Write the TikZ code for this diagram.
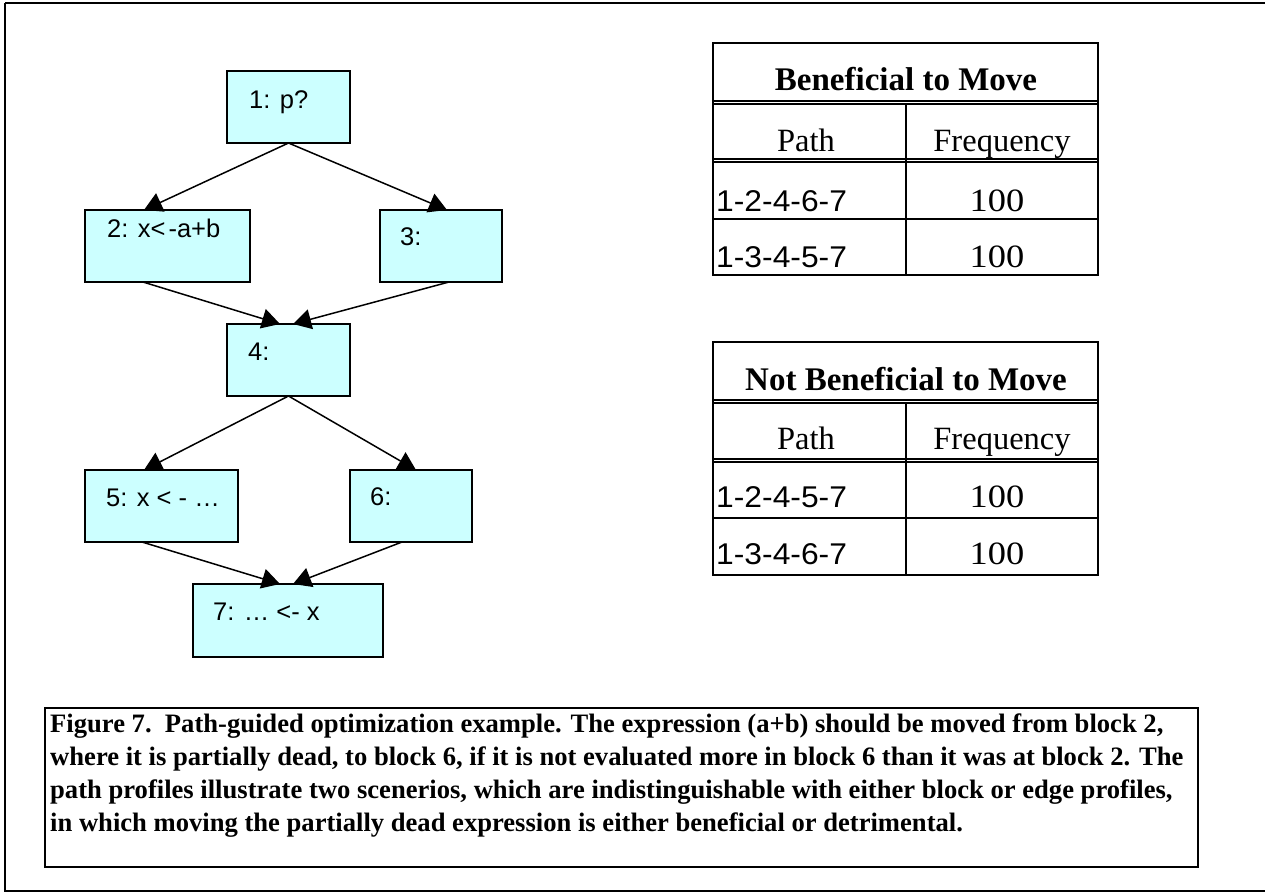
\documentclass[tikz,border=0pt]{standalone}
\usepackage{fontspec}
\setmainfont{Liberation Serif}
\newfontfamily\arial{Liberation Sans}
\usetikzlibrary{arrows.meta}
\definecolor{blockfill}{HTML}{CCFFFF}
\newcommand{\widen}[2]{\scalebox{#1}[1]{#2}}
\tikzset{
  block/.style={draw=black, line width=1.8pt, fill=blockfill, outer sep=0pt, inner sep=0pt, anchor=north west},
  blocktext/.style={anchor=base west, inner sep=0pt, font=\arial\fontsize{25.5}{30}\selectfont},
  flow/.style={line width=1.5pt, -{Triangle[length=18pt,width=20pt]}},
  rule/.style={line width=1.6pt},
  thinrule/.style={line width=1.2pt},
  titletext/.style={anchor=base, inner sep=0pt, font=\bfseries\fontsize{33}{38}\selectfont},
  headtext/.style={anchor=base, inner sep=0pt, font=\fontsize{32.5}{38}\selectfont},
  pathtext/.style={anchor=base west, inner sep=0pt, font=\arial\fontsize{30}{34}\selectfont},
  numtext/.style={anchor=base, inner sep=0pt, font=\fontsize{32.5}{38}\selectfont},
  captext/.style={anchor=base west, inner sep=0pt, font=\bfseries\fontsize{26.6}{33}\selectfont}
}
\begin{document}
\begin{tikzpicture}[x=1pt, y=-1pt]
\useasboundingbox (0,0) rectangle (1265,892);
% outer frame
\draw[line width=2pt] (5,3) -- (1270,3) (5,3) -- (5,891) -- (1270,891);

% control-flow blocks
\node[block, minimum width=123pt, minimum height=72pt] (b1) at (227,71) {};
\node[block, minimum width=165pt, minimum height=72pt] (b2) at (85,210) {};
\node[block, minimum width=122pt, minimum height=72pt] (b3) at (380,210) {};
\node[block, minimum width=123pt, minimum height=72pt] (b4) at (227,324) {};
\node[block, minimum width=153pt, minimum height=72pt] (b5) at (85,470) {};
\node[block, minimum width=122pt, minimum height=72pt] (b6) at (350,470) {};
\node[block, minimum width=190pt, minimum height=73pt] (b7) at (193,584) {};

\node[blocktext] (t1) at ([shift={(22,37)}]b1.north west) {1: p?};
\node[blocktext] (t2) at ([shift={(22,27)}]b2.north west) {2: x<\kern3pt-a+b};
\node[blocktext] (t3) at ([shift={(20,35)}]b3.north west) {3:};
\node[blocktext] (t4) at ([shift={(21,36)}]b4.north west) {4:};
\node[blocktext] (t5) at ([shift={(21,36)}]b5.north west) {5: x < - …};
\node[blocktext] (t6) at ([shift={(20,35)}]b6.north west) {6:};
\node[blocktext] (t7) at ([shift={(20,36)}]b7.north west) {7: … <- x};

% edges
\draw[flow] (b1.south) -- ([xshift=59pt]b2.north west);
\draw[flow] (b1.south) -- ([xshift=67pt]b3.north west);
\draw[flow] ([xshift=58pt]b2.south west) -- ([xshift=53pt]b4.north west);
\draw[flow] ([xshift=69pt]b3.south west) -- ([xshift=66pt]b4.north west);
\draw[flow] (b4.south) -- ([xshift=59pt]b5.north west);
\draw[flow] (b4.south) -- ([xshift=66pt]b6.north west);
\draw[flow] ([xshift=57pt]b5.south west) -- ([xshift=87pt]b7.north west);
\draw[flow] ([xshift=52pt]b6.south west) -- ([xshift=100pt]b7.north west);

% table: beneficial to move
\draw[rule] (713,43) rectangle (1098,275);
\draw[thinrule] (713,101) -- (1098,101) (713,104) -- (1098,104);
\draw[thinrule] (713,159) -- (1098,159) (713,162) -- (1098,162);
\draw[rule] (713,219) -- (1098,219);
\draw[rule] (906,104) -- (906,275);
\node[titletext] (bt) at (906,90) {Beneficial to Move};
\node[headtext] (bp) at (806,151) {Path};
\node[headtext] (bf) at (1002,151) {Frequency};
\node[pathtext] (br1) at (716,211) {\widen{1.06}{1-2-4-6-7}};
\node[numtext] (bn1) at (997,211) {\widen{1.12}{100}};
\node[pathtext] (br2) at (716,267) {\widen{1.06}{1-3-4-5-7}};
\node[numtext] (bn2) at (997,267) {\widen{1.12}{100}};

% table: not beneficial to move
\draw[rule] (713,342) rectangle (1098,575);
\draw[thinrule] (713,400) -- (1098,400) (713,403) -- (1098,403);
\draw[thinrule] (713,459) -- (1098,459) (713,462) -- (1098,462);
\draw[rule] (713,518) -- (1098,518);
\draw[rule] (906,403) -- (906,575);
\node[titletext] (nt) at (906,390) {Not Beneficial to Move};
\node[headtext] (np) at (806,449) {Path};
\node[headtext] (nf) at (1002,449) {Frequency};
\node[pathtext] (nr1) at (716,507) {\widen{1.06}{1-2-4-5-7}};
\node[numtext] (nn1) at (997,507) {\widen{1.12}{100}};
\node[pathtext] (nr2) at (716,564) {\widen{1.06}{1-3-4-6-7}};
\node[numtext] (nn2) at (997,564) {\widen{1.12}{100}};

% caption
\draw[line width=2pt] (45,708) rectangle (1198,867);
\node[captext] (c1) at (50,732) {Figure 7.\ \ Path-guided optimization example. The expression (a+b) should be moved from block 2,};
\node[captext] (c2) at (50,765) {where it is partially dead, to block 6, if it is not evaluated more in block 6 than it was at block 2. The};
\node[captext] (c3) at (50,798) {path profiles illustrate two scenerios, which are indistinguishable with either block or edge profiles,};
\node[captext] (c4) at (50,831) {in which moving the partially dead expression is either beneficial or detrimental.};
\end{tikzpicture}
\end{document}
